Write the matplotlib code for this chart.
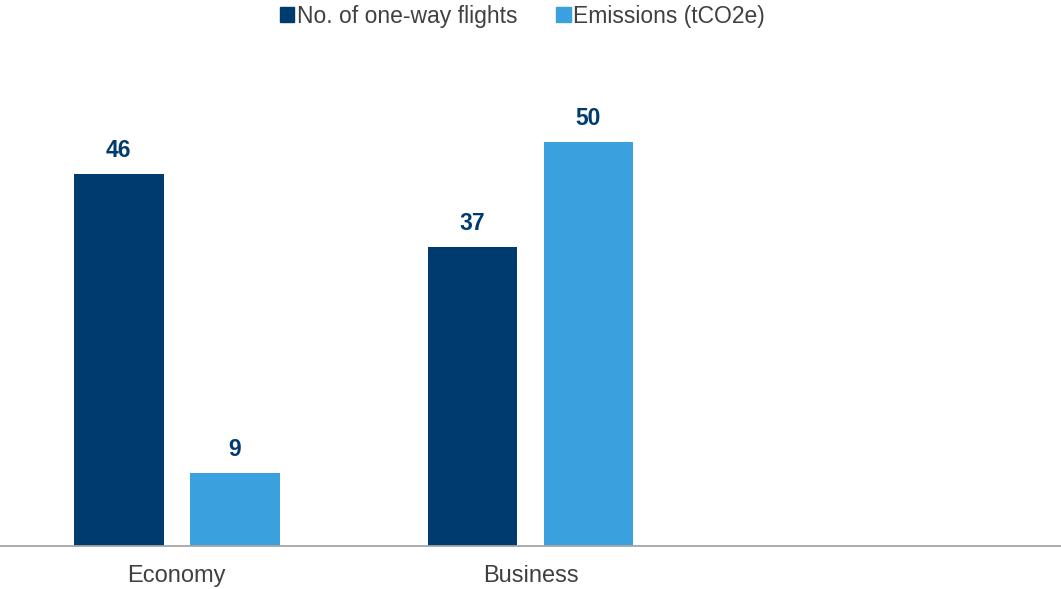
import numpy as np
import matplotlib.pyplot as plt
from matplotlib.patches import Patch

plt.rcParams['font.family'] = ['Liberation Sans', 'DejaVu Sans']

# flight class breakdown
classes = ["Economy", "Business"]
flights = [46, 37]
emissions = [9, 50]
series_names = ["No. of one-way flights", "Emissions (tCO2e)"]

DARK = "#003B6F"
LIGHT = "#3AA0DE"

fig = plt.figure(figsize=(10.61, 5.89), dpi=100)
ax = fig.add_axes([0, 0.073, 1, 0.82])

x = np.arange(len(classes))
w = 0.254
off = 0.164
b1 = ax.bar(x - off, flights, w, color=DARK)
b2 = ax.bar(x + off, emissions, w, color=LIGHT)

for bars in (b1, b2):
    for rect in bars:
        h = rect.get_height()
        ax.annotate(f"{h:g}", (rect.get_x() + rect.get_width() / 2, h),
                    xytext=(0, 9), textcoords="offset points",
                    ha="center", va="bottom", fontsize=16.5,
                    fontweight="bold", color=DARK)

# third slot on the category axis is left empty
ax.set_xlim(-0.5, 2.5)
ax.set_ylim(0, 59.8)
ax.set_xticks(x)
ax.set_xticklabels(classes, fontsize=17, color="#404040")
ax.tick_params(axis="x", length=0, pad=14)
ax.set_yticks([])
for side in ("top", "right", "left"):
    ax.spines[side].set_visible(False)
ax.spines["bottom"].set_color("#A6A6A6")
ax.spines["bottom"].set_linewidth(1.3)

handles = [Patch(color=DARK), Patch(color=LIGHT)]
fig.legend(handles, series_names, loc="upper center", bbox_to_anchor=(0.4925, 1.027),
           ncol=2, frameon=False, fontsize=16.5, handlelength=0.62,
           handleheight=0.62, handletextpad=0.12, columnspacing=1.7,
           labelcolor="#404040")

fig.savefig("out.png", dpi=100)
